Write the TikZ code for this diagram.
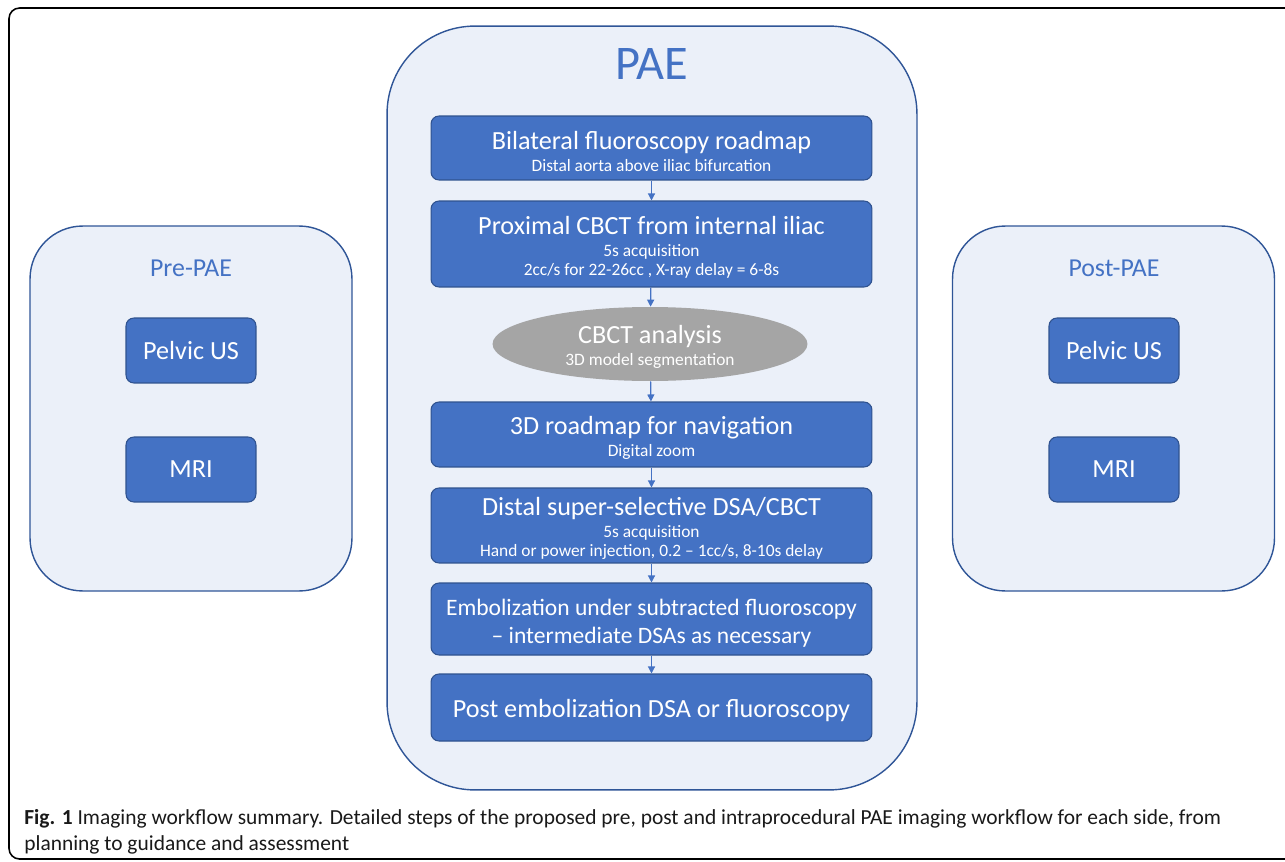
\documentclass[tikz,border=0pt]{standalone}
\usepackage{fontspec}
\setmainfont{Carlito}
\usetikzlibrary{shapes.geometric,arrows.meta}
\definecolor{paeblue}{HTML}{4472C4}
\definecolor{paeedge}{HTML}{2F528F}
\definecolor{panelfill}{HTML}{EBF0F9}
\definecolor{paneledge}{HTML}{2F5597}
\definecolor{ovalgray}{HTML}{A5A5A5}
\newcommand{\subline}{\fontsize{9.9}{11.3}\selectfont}
\newcommand{\liftline}{\rule{0pt}{14pt}}
\begin{document}
\begin{tikzpicture}[x=0.02cm,y=-0.02cm,>={Triangle[length=4pt,width=4pt]},
    panel/.style={draw=paneledge,fill=panelfill,line width=0.8pt},
    paneltitle/.style={text=paeblue,font=\fontsize{14.7}{17}\selectfont},
    stepbox/.style={draw=paeedge,fill=paeblue,text=white,line width=0.6pt,rounded corners=4.5pt,
      minimum width=8.82cm,align=center,inner sep=1pt,font=\fontsize{14.9}{16}\selectfont},
    exambox/.style={draw=paeedge,fill=paeblue,text=white,line width=0.6pt,rounded corners=4.5pt,
      minimum width=2.6cm,minimum height=1.3cm,font=\fontsize{14.9}{17}\selectfont},
    flow/.style={->,paeblue,line width=0.7pt}]
  \useasboundingbox (0,0) rectangle (1285,862);
  % frame
  \draw[line width=0.9pt,rounded corners=6pt] (9,8) rectangle (1300,859);
  % panels
  \node[panel,minimum width=10.6cm,minimum height=15.28cm,rounded corners=50pt] (pae) at (652,408) {};
  \node[panel,minimum width=6.44cm,minimum height=7.3cm,rounded corners=30pt] (pre) at (191,408.5) {};
  \node[panel,minimum width=6.44cm,minimum height=7.3cm,rounded corners=30pt] (post) at (1113.5,408.5) {};
  \node[text=paeblue,font=\fontsize{27.5}{30}\selectfont] (paetitle) at (652,64) {PAE};
  \node[paneltitle] (pretitle) at (191,268) {Pre-PAE};
  \node[paneltitle] (posttitle) at (1114,268) {Post-PAE};
  % pre and post exams
  \node[exambox] (preus) at (191,350.5) {Pelvic US};
  \node[exambox] (premri) at (191,469.5) {MRI};
  \node[exambox] (postus) at (1114,350.5) {Pelvic US};
  \node[exambox] (postmri) at (1114,469.5) {MRI};
  % procedure steps
  \node[stepbox,minimum height=1.28cm] (road) at (651.5,148)
    {\liftline Bilateral fluoroscopy roadmap\\[-3.5pt]{\subline Distal aorta above iliac bifurcation}};
  \node[stepbox,minimum height=1.72cm] (cbct) at (651.5,244)
    {\liftline Proximal CBCT from internal iliac\\[-3.5pt]{\subline 5s acquisition}\\[-5pt]{\subline 2cc/s for 22-26cc , X-ray delay = 6-8s}};
  \node[ellipse,fill=ovalgray,text=white,minimum width=6.3cm,minimum height=1.48cm,inner sep=0pt,
    align=center,font=\fontsize{14.9}{16}\selectfont] (ana) at (650,344)
    {\liftline CBCT analysis\\[-3.5pt]{\subline 3D model segmentation}};
  \node[stepbox,minimum height=1.3cm] (nav) at (651.5,434.5)
    {\liftline 3D roadmap for navigation\\[-3.5pt]{\subline Digital zoom}};
  \node[stepbox,minimum height=1.5cm] (dsa) at (651.5,525.5)
    {\liftline Distal super-selective DSA/CBCT\\[-3.5pt]{\subline 5s acquisition}\\[-5pt]{\subline Hand or power injection, 0.2 -- 1cc/s, 8-10s delay}};
  \node[stepbox,minimum height=1.44cm,font=\fontsize{13.4}{15.9}\selectfont] (emb) at (651.5,619)
    {\liftline Embolization under subtracted fluoroscopy\\-- intermediate DSAs as necessary};
  \node[stepbox,minimum height=1.34cm] (final) at (651.5,707.5)
    {\liftline Post embolization DSA or fluoroscopy};
  \draw[flow] (road) -- (cbct);
  \draw[flow] (cbct) -- (ana);
  \draw[flow] (ana) -- (nav);
  \draw[flow] (nav) -- (dsa);
  \draw[flow] (dsa) -- (emb);
  \draw[flow] (emb) -- (final);
  % caption
  \node[anchor=north west,align=left,inner sep=0pt,text=black!90,font=\fontsize{12.2}{14.7}\selectfont] (cap) at (24,809)
    {\textbf{Fig. 1} Imaging workflow summary. Detailed steps of the proposed pre, post and intraprocedural PAE imaging workflow for each side, from\\
     planning to guidance and assessment};
\end{tikzpicture}
\end{document}
